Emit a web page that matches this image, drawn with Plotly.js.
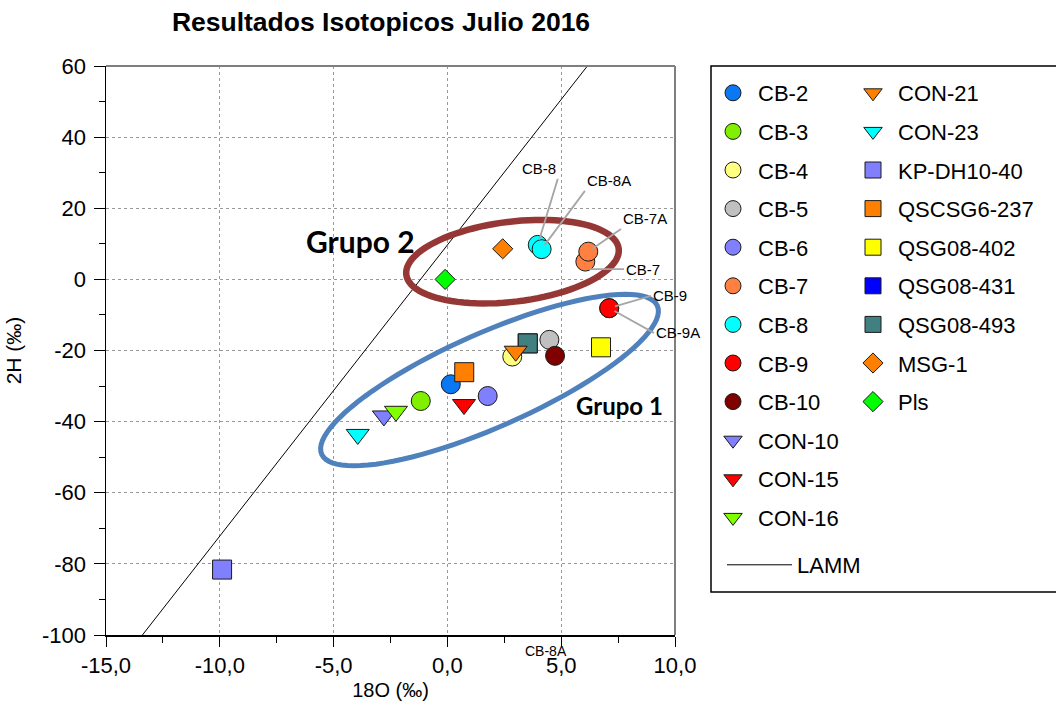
<!DOCTYPE html>
<html><head><meta charset="utf-8">
<script src="https://cdn.plot.ly/plotly-3.0.1.min.js"></script>
<style>html,body{margin:0;padding:0;background:#fff}#chart{width:1056px;height:712px}</style>
</head><body><div id="chart"></div>
<script>
// ---------- data ----------
const seriesNames = ['CB-2','CB-3','CB-4','CB-5','CB-6','CB-7','CB-8','CB-9','CB-10','CON-10','CON-15','CON-16',
  'CON-21','CON-23','KP-DH10-40','QSCSG6-237','QSG08-402','QSG08-431','QSG08-493','MSG-1','Pls'];
const seriesX = [[0.15],[-1.17],[2.85],[4.48],[1.77],[6.06,6.19],[3.97,4.14],[7.11,7.11],[4.73],[-2.79],[0.73],[-2.26],
  [3.0],[-3.94],[-9.9],[0.74],[6.75],[3.53],[3.53],[2.43],[-0.1]];
const seriesY = [[-29.5],[-34.2],[-21.7],[-17.0],[-32.8],[5.0,7.8],[9.7,8.5],[-8.1,-8.1],[-21.5],[-38.4],[-35.2],[-37.1],
  [-20.2],[-43.6],[-81.6],[-26.1],[-19.1],[-18.0],[-18.0],[8.6],[0.0]];
const lammX = [-13.4, 6.15];
const lammY = [-100, 60];
const xTickVals = [-15,-10,-5,0,5,10];
const xTickLabels = ['-15,0','-10,0','-5,0','0,0','5,0','10,0'];
const yTickVals = [-100,-80,-60,-40,-20,0,20,40,60];
const yTickLabels = ['-100','-80','-60','-40','-20','0','20','40','60'];
const pointLabels = ['CB-8','CB-8A','CB-7A','CB-7','CB-9','CB-9A'];
const groupLabels = ['Grupo 2','Grupo 1'];

// ---------- styles ----------
const symbols = ['circle','circle','circle','circle','circle','circle','circle','circle','circle',
  'triangle-down','triangle-down','triangle-down','triangle-down','triangle-down',
  'square','square','square','square','square','diamond','diamond'];
const colors = ['#0A78F2','#80F000','#FFFF80','#C0C0C0','#8080FF','#FF8040','#00FFFF','#FF0000','#800000',
  '#8080FF','#FF0000','#80FF00','#FF8000','#00FFFF',
  '#8080FF','#FF8000','#FFFF00','#0000FF','#408080','#FF8000','#00FF00'];
const sizeFor = {'circle':19,'triangle-down':20,'square':19,'diamond':15.5};
// draw order (legend order is kept with legendrank): squares QSG08-431/493 beneath CON-21
const drawOrder = [0,1,2,3,4,5,6,7,8,9,10,11,17,18,12,13,14,15,16,19,20];
const xRange = [-15, 10], yRange = [-100, 60];
const PW = 569, PH = 569;

const traces = [{type:'scatter', mode:'lines', name:'LAMM', x: lammX, y: lammY, legend:'legend3',
  line:{color:'#000', width:1}}];
drawOrder.forEach(i => traces.push({
  type: 'scatter', mode: 'markers', name: seriesNames[i],
  x: seriesX[i], y: seriesY[i],
  legend: i < 12 ? 'legend' : 'legend2',
  legendgroup: 'g' + i, legendrank: 100 + i * 10,
  marker: {symbol: symbols[i], color: colors[i], size: sizeFor[symbols[i]], line: {color: '#1a1a1a', width: 1}},
  hoverinfo: 'name+x+y'
}));

function ellipsePath(cx, cy, a, b, deg) {
  const px0 = (cx - xRange[0]) / (xRange[1] - xRange[0]);
  const py0 = (cy - yRange[0]) / (yRange[1] - yRange[0]);
  const t = deg * Math.PI / 180;
  let d = '';
  for (let i = 0; i <= 96; i++) {
    const p = 2 * Math.PI * i / 96;
    const ux = a * Math.cos(p), uy = b * Math.sin(p);
    const X = ux * Math.cos(t) - uy * Math.sin(t);
    const Y = ux * Math.sin(t) + uy * Math.cos(t);
    d += (i ? 'L' : 'M') + (px0 + X / PW).toFixed(5) + ',' + (py0 + Y / PH).toFixed(5);
  }
  return d + 'Z';
}

function leader(label, si, pi, ax, ay, xa, ya, standoff, yshift) {
  return {x: seriesX[si][pi], y: seriesY[si][pi], xref:'x', yref:'y', text: label,
    showarrow: true, arrowhead: 0, arrowwidth: 1.8, arrowcolor: '#A6A6A6',
    ax: ax, ay: ay, xanchor: xa, yanchor: ya, standoff: standoff, yshift: yshift || 0,
    font: {family: 'Liberation Sans, Arial, sans-serif', size: 15, color: '#000'}};
}

const annotations = [
  leader(pointLabels[0], 6, 0, 20, -66, 'right', 'bottom', 5),
  leader(pointLabels[1], 6, 1, 43.3, -58.3, 'left', 'bottom', 5),
  leader(pointLabels[2], 5, 1, 32.7, -22.7, 'left', 'bottom', 5),
  leader(pointLabels[3], 5, 0, 38.7, 0, 'left', 'middle', 4, -7.6),
  leader(pointLabels[4], 7, 0, 41.7, -12.3, 'left', 'middle', 6),
  leader(pointLabels[5], 7, 1, 44.7, 24.7, 'left', 'middle', 6),
  {x: 4.33, xref:'x', y: -0.0457, yref:'paper', text: pointLabels[1], showarrow:false,
   font:{family:'Liberation Sans, Arial, sans-serif', size:14, color:'#000'}},
  {x: -3.84, y: 10.8, xref:'x', yref:'y', text: groupLabels[0], showarrow:false,
   font:{family:'Lato, sans-serif', size:30, color:'#000', weight:700}},
  {x: 7.55, y: -35.6, xref:'x', yref:'y', text: groupLabels[1], showarrow:false,
   font:{family:'Lato, sans-serif', size:24, color:'#000', weight:700}}
];

const shapes = [
  {type:'path', xref:'paper', yref:'paper', path: ellipsePath(2.86, 4.98, 107, 40, 6.97),
   line:{color:'#953735', width:6.5}},
  {type:'path', xref:'paper', yref:'paper', path: ellipsePath(1.85, -28.3, 183.5, 47, 23.85),
   line:{color:'#4F81BD', width:5}},
  {type:'line', xref:'paper', yref:'paper', x0:0, x1:1, y0:1, y1:1, line:{color:'#7F7F7F', width:2}},
  {type:'line', xref:'paper', yref:'paper', x0:1, x1:1, y0:0, y1:1, line:{color:'#7F7F7F', width:2}},
  {type:'rect', xref:'paper', yref:'paper', x0:(711-106)/PW, x1:(1060-106)/PW, y0:(635-592)/PH, y1:1.0,
   line:{color:'#000', width:1.5}, fillcolor:'rgba(0,0,0,0)'}
];

const legFont = {family:'Liberation Sans, Arial, sans-serif', size:22, color:'#000'};
const layout = {
  width:1056, height:712,
  margin:{l:106, r:381, t:66, b:77, autoexpand:false},
  paper_bgcolor:'#fff', plot_bgcolor:'#fff',
  font:{family:'Liberation Sans, Arial, sans-serif', color:'#000'},
  title:{text:'Resultados Isotopicos Julio 2016', x:381/1056, xanchor:'center', y:1-22/712, yanchor:'middle',
    font:{size:26.5, weight:700, color:'#000'}},
  xaxis:{range:xRange, tickmode:'array', tickvals:xTickVals, ticktext:xTickLabels,
    showgrid:true, gridcolor:'#999999', griddash:'dot', gridwidth:1, zeroline:false,
    showline:true, linecolor:'#000', linewidth:1.5, ticks:'outside', ticklen:10, tickcolor:'#000', tickwidth:1,
    tickfont:{size:22}, ticklabelstandoff:0,
    minor:{tickmode:'linear', tick0:0, dtick:2.5, ticks:'outside', ticklen:6, tickcolor:'#000', showgrid:false},
    title:{text:'18O (‰)', font:{size:20}, standoff:6}},
  yaxis:{range:yRange, tickmode:'array', tickvals:yTickVals, ticktext:yTickLabels,
    showgrid:true, gridcolor:'#999999', griddash:'dot', gridwidth:1, zeroline:false,
    showline:true, linecolor:'#000', linewidth:1.5, ticks:'outside', ticklen:11, tickcolor:'#000', tickwidth:1,
    tickfont:{size:22}, ticklabelstandoff:3,
    minor:{tickmode:'linear', tick0:0, dtick:10, ticks:'outside', ticklen:6, tickcolor:'#000', showgrid:false},
    title:{text:'2H (‰)', font:{size:21}, standoff:14}},
  legend:{x:(708-106)/PW, xanchor:'left', y:(635-72)/PH, yanchor:'top', font:legFont, itemwidth:40,
    tracegroupgap:7, bgcolor:'rgba(0,0,0,0)', borderwidth:0},
  legend2:{x:(848-106)/PW, xanchor:'left', y:(635-72)/PH, yanchor:'top', font:legFont, itemwidth:40,
    tracegroupgap:7, bgcolor:'rgba(0,0,0,0)', borderwidth:0},
  legend3:{x:(722-106)/PW, xanchor:'left', y:(635-544)/PH, yanchor:'top', font:legFont, itemwidth:65,
    bgcolor:'rgba(0,0,0,0)', borderwidth:0},
  showlegend:true,
  shapes: shapes,
  annotations: annotations
};

Plotly.newPlot('chart', traces, layout, {displayModeBar:false, staticPlot:true});
</script>
</body></html>
